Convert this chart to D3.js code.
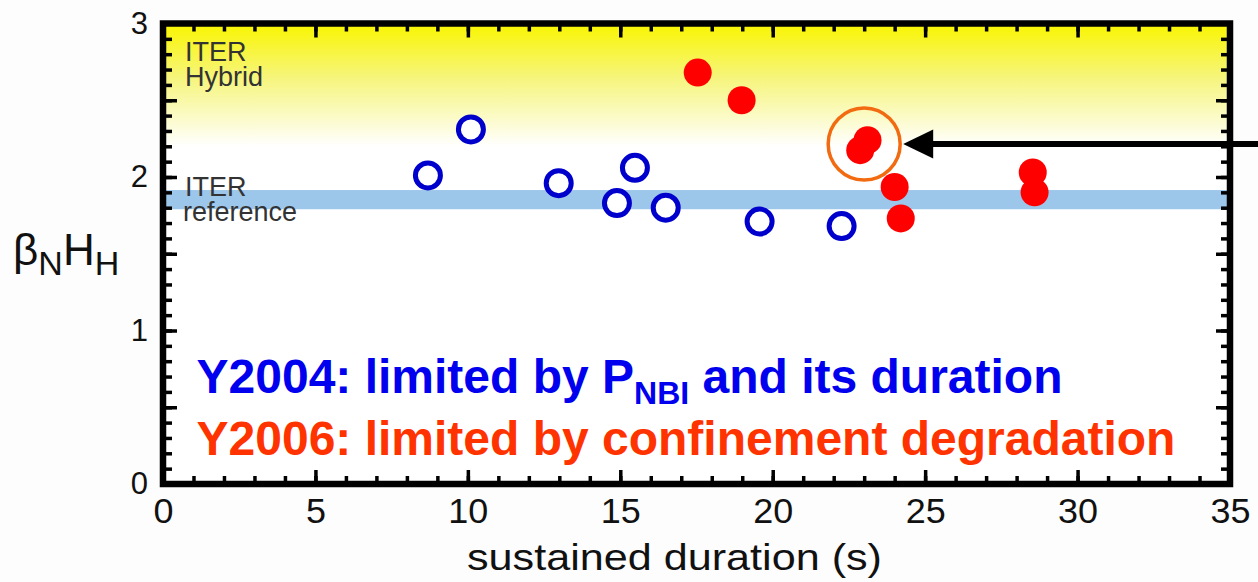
<!DOCTYPE html>
<html>
<head>
<meta charset="utf-8">
<script src="https://cdn.jsdelivr.net/npm/d3@7"></script>
<style>
  body { margin: 0; background: #fdfdfd; }
  svg { display: block; font-family: "Liberation Sans", Arial, sans-serif; }
</style>
</head>
<body>
<div id="chart"></div>
<script>
// data
var y2004Duration = [8.69, 10.10, 12.98, 14.89, 15.48, 16.49, 19.57, 22.26];
var y2004BetaH    = [2.01, 2.31, 1.96, 1.83, 2.06, 1.80, 1.71, 1.68];
var y2006Duration = [17.54, 18.98, 22.87, 23.11, 24.0, 24.2, 28.53, 28.59];
var y2006BetaH    = [2.68, 2.50, 2.175, 2.24, 1.935, 1.73, 2.03, 1.90];

var xTickValues = [0, 5, 10, 15, 20, 25, 30, 35];
var yTickValues = [0, 1, 2, 3];
var hybridRange = [2.2, 3];        // ITER hybrid shaded zone
var referenceBand = [1.79, 1.915]; // ITER reference band
var highlight = {dur: 23.0, beta: 2.215};

var width = 1258, height = 582;

var svg = d3.select("#chart").append("svg")
    .attr("width", width)
    .attr("height", height);

var x = d3.scaleLinear().domain([0, 35]).range([163, 1230]);
var y = d3.scaleLinear().domain([0, 3]).range([484, 23.5]);

var defs = svg.append("defs");
var grad = defs.append("linearGradient")
    .attr("id", "hybridGrad")
    .attr("x1", 0).attr("y1", 0).attr("x2", 0).attr("y2", 1);
grad.append("stop").attr("offset", "0%").attr("stop-color", "#f9f500");
grad.append("stop").attr("offset", "45%").attr("stop-color", "#f6f57e");
grad.append("stop").attr("offset", "100%").attr("stop-color", "#ffffff");

// plot background
svg.append("rect")
    .attr("x", x(0)).attr("y", y(3))
    .attr("width", x(35) - x(0)).attr("height", y(0) - y(3))
    .attr("fill", "#ffffff");

svg.append("rect")
    .attr("x", x(0)).attr("y", y(hybridRange[1]))
    .attr("width", x(35) - x(0))
    .attr("height", y(hybridRange[0]) - y(hybridRange[1]))
    .attr("fill", "url(#hybridGrad)");

svg.append("rect")
    .attr("x", x(0)).attr("y", y(referenceBand[1]))
    .attr("width", x(35) - x(0))
    .attr("height", y(referenceBand[0]) - y(referenceBand[1]))
    .attr("fill", "#9cc6ea");

// ITER labels
var lab = svg.append("g")
    .attr("fill", "#333")
    .style("font-size", "27px");
lab.append("text").attr("x", x(0) + 22).attr("y", y(3) + 37).text("ITER");
lab.append("text").attr("x", x(0) + 22).attr("y", y(3) + 62).text("Hybrid");
lab.append("text").attr("x", x(0) + 22).attr("y", y(2) + 19).text("ITER");
lab.append("text").attr("x", x(0) + 20).attr("y", y(2) + 44).text("reference");

// Y2004 open circles
svg.append("g").selectAll("circle")
    .data(y2004Duration)
    .enter()
    .append("circle")
    .attr("cx", function(d) { return x(d); })
    .attr("cy", function(d, i) { return y(y2004BetaH[i]); })
    .attr("r", 12.5)
    .attr("fill", "#ffffff")
    .attr("stroke", "#0000cc")
    .attr("stroke-width", 5);

// Y2006 filled circles
svg.append("g").selectAll("circle")
    .data(y2006Duration)
    .enter()
    .append("circle")
    .attr("cx", function(d) { return x(d); })
    .attr("cy", function(d, i) { return y(y2006BetaH[i]); })
    .attr("r", 14)
    .attr("fill", "#ff0000");

// axes with inward ticks
function styleAxis(g) {
    g.select(".domain").remove();
    g.selectAll(".tick line").attr("stroke", "#000").attr("stroke-width", 3.5);
    g.selectAll(".tick text").attr("fill", "#111");
}

var xMinor = d3.range(0, 36, 1);
var yMinor = d3.range(0, 31, 1).map(function(d) { return d / 10; });
var yHalf = [0, 0.5, 1, 1.5, 2, 2.5, 3];

svg.append("g").attr("transform", "translate(0," + y(0) + ")")
    .call(d3.axisBottom(x).tickValues(xMinor).tickSize(-8).tickFormat(""))
    .call(styleAxis);
svg.append("g").attr("transform", "translate(0," + y(0) + ")")
    .call(d3.axisBottom(x).tickValues(xTickValues).tickSize(-14).tickPadding(14).tickFormat(d3.format("d")))
    .call(styleAxis)
    .selectAll(".tick text")
    .style("font-size", "35px")
    .attr("font-family", "Liberation Sans, Arial, sans-serif")
    .attr("textLength", function(d) { return String(d).length * 20; })
    .attr("lengthAdjust", "spacingAndGlyphs");

svg.append("g").attr("transform", "translate(0," + y(3) + ")")
    .call(d3.axisTop(x).tickValues(xMinor).tickSize(-8).tickFormat(""))
    .call(styleAxis);
svg.append("g").attr("transform", "translate(0," + y(3) + ")")
    .call(d3.axisTop(x).tickValues(xTickValues).tickSize(-14).tickFormat(""))
    .call(styleAxis);

svg.append("g").attr("transform", "translate(" + x(0) + ",0)")
    .call(d3.axisLeft(y).tickValues(yMinor).tickSize(-9).tickFormat(""))
    .call(styleAxis);
svg.append("g").attr("transform", "translate(" + x(0) + ",0)")
    .call(d3.axisLeft(y).tickValues(yHalf).tickSize(-14).tickFormat(""))
    .call(styleAxis);
svg.append("g").attr("transform", "translate(" + x(0) + ",0)")
    .call(d3.axisLeft(y).tickValues(yTickValues).tickSize(0).tickPadding(15).tickFormat(d3.format("d")))
    .call(styleAxis)
    .selectAll(".tick text").style("font-size", "31px").attr("font-family", "Liberation Sans, Arial, sans-serif");

svg.append("g").attr("transform", "translate(" + x(35) + ",0)")
    .call(d3.axisRight(y).tickValues(yMinor).tickSize(-9).tickFormat(""))
    .call(styleAxis);
svg.append("g").attr("transform", "translate(" + x(35) + ",0)")
    .call(d3.axisRight(y).tickValues(yHalf).tickSize(-14).tickFormat(""))
    .call(styleAxis);

// frame
svg.append("rect")
    .attr("x", x(0)).attr("y", y(3))
    .attr("width", x(35) - x(0)).attr("height", y(0) - y(3))
    .attr("fill", "none")
    .attr("stroke", "#000")
    .attr("stroke-width", 6.5);

// axis titles
svg.append("text")
    .attr("x", 467).attr("y", 570)
    .attr("textLength", 415)
    .attr("lengthAdjust", "spacingAndGlyphs")
    .attr("fill", "#111")
    .style("font-size", "36px")
    .text("sustained duration (s)");

var yl = svg.append("text")
    .attr("x", 13).attr("y", 265)
    .attr("fill", "#111")
    .style("font-size", "44px");
yl.append("tspan").text("β");
yl.append("tspan").attr("dy", 10).style("font-size", "34px").text("N");
yl.append("tspan").attr("dy", -10).text("H");
yl.append("tspan").attr("dy", 10).style("font-size", "34px").text("H");

// legend text
var l1 = svg.append("text")
    .attr("x", x(1.1)).attr("y", y(0.59))
    .attr("fill", "#0000ee")
    .style("font-size", "48px")
    .style("font-weight", "bold");
l1.append("tspan").text("Y2004: limited by P");
l1.append("tspan").attr("dy", 11).style("font-size", "32px").text("NBI");
l1.append("tspan").attr("dy", -11).text(" and its duration");

svg.append("text")
    .attr("x", x(1.1)).attr("y", y(0.19))
    .attr("fill", "#ff3300")
    .style("font-size", "48px")
    .style("font-weight", "bold")
    .text("Y2006: limited by confinement degradation");

// highlight circle and arrow
var hx = x(highlight.dur), hy = y(highlight.beta);
svg.append("circle")
    .attr("cx", hx).attr("cy", hy)
    .attr("r", 36)
    .attr("fill", "none")
    .attr("stroke", "#f26b10")
    .attr("stroke-width", 3.5);

var tip = hx + 39;
svg.append("line")
    .attr("x1", tip + 25).attr("y1", hy)
    .attr("x2", width).attr("y2", hy)
    .attr("stroke", "#000")
    .attr("stroke-width", 6);
svg.append("path")
    .attr("d", "M" + tip + "," + hy + "L" + (tip + 30) + "," + (hy - 14.5) + "L" + (tip + 30) + "," + (hy + 14.5) + "Z")
    .attr("fill", "#000");
</script>
</body>
</html>
